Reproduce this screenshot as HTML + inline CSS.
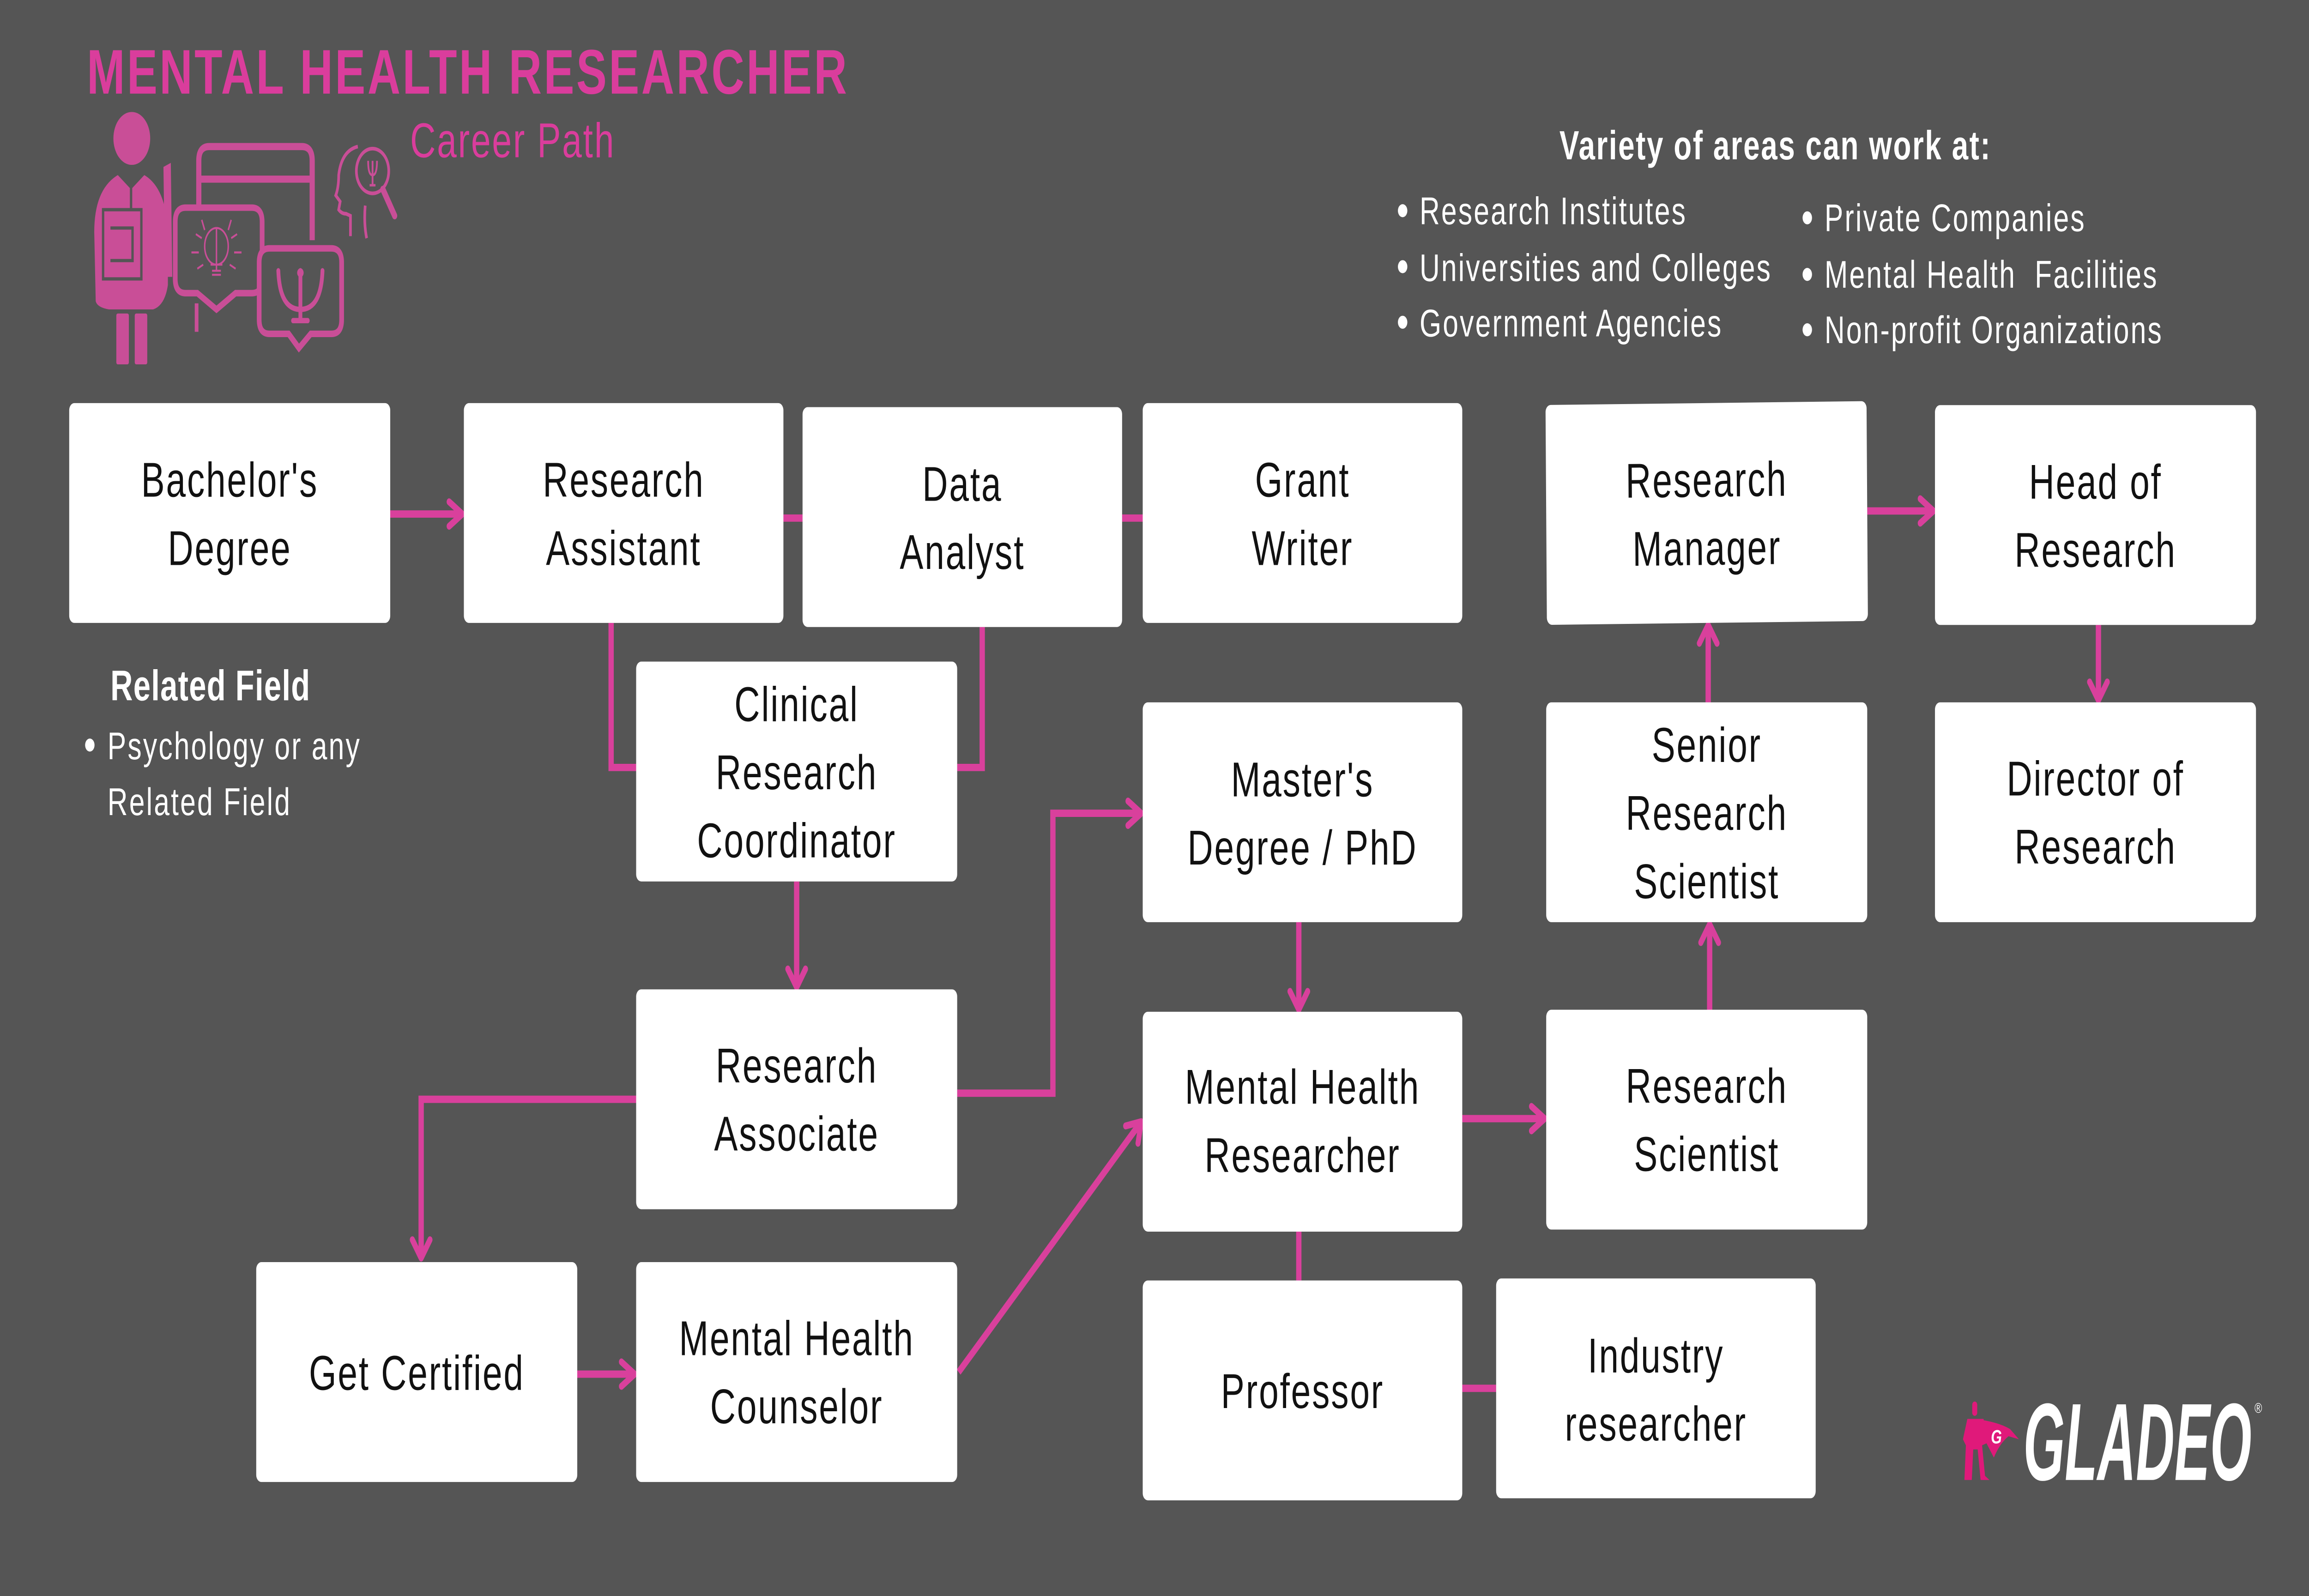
<!DOCTYPE html>
<html>
<head>
<meta charset="utf-8">
<style>
html,body{margin:0;padding:0;width:100%;height:100%;background:#555555;overflow:hidden;}
svg{display:block;width:100vw;height:100vh;}
.bx{fill:#ffffff;}
.bt{font-family:"Liberation Sans",sans-serif;font-size:24px;letter-spacing:0.9px;fill:#111111;text-anchor:middle;}
.li{font-family:"Liberation Sans",sans-serif;font-size:19px;letter-spacing:1px;fill:#ffffff;white-space:pre;}
</style>
</head>
<body>
<svg viewBox="0 0 1568 784" preserveAspectRatio="none">
  <rect x="0" y="0" width="1568" height="784" fill="#555555"/>

  <!-- connectors -->
  <g stroke="#d9409c" stroke-width="3.6" fill="none">
    <path d="M265 252.5 H313"/>
    <path d="M532 254.5 H545"/>
    <path d="M762 254.5 H776"/>
    <path d="M415 306 V377 H432"/>
    <path d="M667 308 V377 H650"/>
    <path d="M541 433 V484"/>
    <path d="M650 537 H715 V399.5 H774"/>
    <path d="M432 540 H286 V617"/>
    <path d="M392 675 H430"/>
    <path d="M651 674 L774 552"/>
    <path d="M882 453 V495"/>
    <path d="M993 549.5 H1048"/>
    <path d="M882 605 V629"/>
    <path d="M993 682 H1016"/>
    <path d="M1161 496 V455"/>
    <path d="M1160 345 V308"/>
    <path d="M1268 251 H1312"/>
    <path d="M1425 307 V343"/>
  </g>
  <g stroke="#d9409c" stroke-width="3.4" fill="none" stroke-linecap="round" stroke-linejoin="round">
    <path d="M305 246.5 L314 252.5 L305 258.5"/>
    <path d="M766 393.5 L775 399.5 L766 405.5"/>
    <path d="M535 476 L541 485 L547 476"/>
    <path d="M280 609 L286 618 L292 609"/>
    <path d="M422 669 L431 675 L422 681"/>
    <path d="M764.4 553.1 L775 551 L772.8 561.6"/>
    <path d="M876 487 L882 496 L888 487"/>
    <path d="M1040 543.5 L1049 549.5 L1040 555.5"/>
    <path d="M1155 463 L1161 454 L1167 463"/>
    <path d="M1154 316 L1160 307 L1166 316"/>
    <path d="M1304 245 L1313 251 L1304 257"/>
    <path d="M1419 335 L1425 344 L1431 335"/>
  </g>

  <!-- Icon: person with bubbles -->
  <g fill="#c94e97">
    <ellipse cx="89.5" cy="68" rx="12.5" ry="13"/>
    <path d="M65 148 L64 114 Q64 93 80 86 L89 93 L98 86 Q112 92 114 112 L114 140 Q112 150 104 152 L74 152 Q66 151 65 148 Z"/>
    <rect x="79" y="154" width="8.5" height="25" rx="1"/>
    <rect x="91.5" y="154" width="8.5" height="25" rx="1"/>
    <path d="M111 82 L116 80 L117 136 L112 136 Z"/>
  </g>
  <g fill="none" stroke="#555555" stroke-width="1.6">
    <path d="M70 103 H96 V137 H70 Z"/>
    <path d="M75 112 H90 V128 H75"/>
    <path d="M89 92 L89 103"/>
  </g>
  <g fill="none" stroke="#c94e97" stroke-width="3.5">
    <path d="M135 116 V79 Q135 72 142 72 H205 Q212 72 212 79 V118"/>
    <path d="M135 88 H212"/>
  </g>
  <path d="M126 102 H171 Q178 102 178 109 V137 Q178 144 171 144 H160 L147 152 L134 144 H126 Q119 144 119 137 V109 Q119 102 126 102 Z" fill="#555555" stroke="#c94e97" stroke-width="3.2"/>
  <g fill="none" stroke="#c94e97" stroke-width="1">
    <ellipse cx="147" cy="121" rx="8" ry="9"/>
    <path d="M147 112 V133 M143 130 H151 M144 133 H150 M144 135 H150"/>
    <path d="M137 108 L139 113 M157 108 L155 113 M130 124 H135 M159 124 H164 M133 115 L137 117 M161 115 L157 117 M134 132 L138 130 M160 132 L156 130"/>
  </g>
  <path d="M133.5 149 V163" stroke="#c94e97" stroke-width="2.5"/>
  <path d="M183 122 H225 Q232 122 232 129 V157 Q232 164 225 164 H211 L203 171 L196 164 H183 Q176 164 176 157 V129 Q176 122 183 122 Z" fill="#555555" stroke="#c94e97" stroke-width="3.2"/>
  <g fill="none" stroke="#c94e97" stroke-width="2.6" stroke-linecap="round">
    <path d="M189 133 Q190 152 204 152 Q218 152 219 133"/>
    <path d="M204 133 V157"/>
    <path d="M199 157.5 H209"/>
  </g>
  <circle cx="204" cy="134" r="2.2" fill="#c94e97"/>
  <g fill="none" stroke="#c94e97" stroke-width="1.8">
    <path d="M243 72 Q232 74 230 86 Q230 92 228 96 L231 99 L230 103 Q232 105 235 105 L238 106 L238 116"/>
    <path d="M248 101 Q247 110 249 117"/>
    <circle cx="253" cy="84" r="11"/>
    <path d="M250 79 Q250 86 253 86 Q256 86 256 79 M253 79 V91 M251 91 H255" stroke-width="1.2"/>
  </g>
  <path d="M260 93 L268 106" stroke="#c94e97" stroke-width="3.5" stroke-linecap="round"/>

  <!-- Title -->
  <text x="59" y="46" font-family="Liberation Sans, sans-serif" font-weight="bold" font-size="31" letter-spacing="1.4" fill="#da3d9c">MENTAL HEALTH RESEARCHER</text>
  <text x="278.5" y="77.2" font-family="Liberation Sans, sans-serif" font-size="24" letter-spacing="0.9" fill="#da3d9c">Career Path</text>

  <!-- Variety -->
  <text x="1059" y="78.3" font-family="Liberation Sans, sans-serif" font-weight="bold" font-size="20" letter-spacing="0.8" fill="#ffffff">Variety of areas can work at:</text>
  <g fill="#ffffff">
    <circle cx="952.5" cy="103.5" r="3.2"/>
    <circle cx="952.5" cy="131" r="3.2"/>
    <circle cx="952.5" cy="158.3" r="3.2"/>
    <circle cx="1227.3" cy="107" r="3.2"/>
    <circle cx="1227.3" cy="134.8" r="3.2"/>
    <circle cx="1227.3" cy="162" r="3.2"/>
    <circle cx="61" cy="366" r="3.2"/>
  </g>
  <text class="li" x="964" y="110.1">Research Institutes</text>
  <text class="li" x="964" y="138">Universities and Colleges</text>
  <text class="li" x="964" y="165.3">Government Agencies</text>
  <text class="li" x="1239" y="113.5" letter-spacing="1.2">Private Companies</text>
  <text class="li" x="1239" y="141.3" letter-spacing="1.2">Mental Health  Facilities</text>
  <text class="li" x="1239" y="168.6" letter-spacing="1.3">Non-profit Organizations</text>

  <!-- Related field -->
  <text x="75" y="344" font-family="Liberation Sans, sans-serif" font-weight="bold" font-size="21" letter-spacing="0.4" fill="#ffffff">Related Field</text>
  <text class="li" x="73" y="373">Psychology or any</text>
  <text class="li" x="73" y="400.4">Related Field</text>

  <!-- Boxes -->
  <rect class="bx" x="47" y="198" width="218" height="108" rx="3.5"/>
  <text class="bt" x="156" y="244">Bachelor's</text>
  <text class="bt" x="156" y="277.5">Degree</text>

  <rect class="bx" x="315" y="198" width="217" height="108" rx="3.5"/>
  <text class="bt" x="423.5" y="244">Research</text>
  <text class="bt" x="423.5" y="277.5">Assistant</text>

  <rect class="bx" x="545" y="200" width="217" height="108" rx="3.5"/>
  <text class="bt" x="653.5" y="246">Data</text>
  <text class="bt" x="653.5" y="279.5">Analyst</text>

  <rect class="bx" x="776" y="198" width="217" height="108" rx="3.5"/>
  <text class="bt" x="884.5" y="244">Grant</text>
  <text class="bt" x="884.5" y="277.5">Writer</text>

  <g transform="rotate(-0.5 1159 252)">
    <rect class="bx" x="1050" y="198" width="218" height="108" rx="3.5"/>
    <text class="bt" x="1159" y="244">Research</text>
    <text class="bt" x="1159" y="277.5">Manager</text>
  </g>

  <rect class="bx" x="1314" y="199" width="218" height="108" rx="3.5"/>
  <text class="bt" x="1423" y="245">Head of</text>
  <text class="bt" x="1423" y="278.5">Research</text>

  <rect class="bx" x="432" y="325" width="218" height="108" rx="3.5"/>
  <text class="bt" x="541" y="354.2">Clinical</text>
  <text class="bt" x="541" y="387.7">Research</text>
  <text class="bt" x="541" y="421.2">Coordinator</text>

  <rect class="bx" x="776" y="345" width="217" height="108" rx="3.5"/>
  <text class="bt" x="884.5" y="391.2">Master's</text>
  <text class="bt" x="884.5" y="424.7">Degree / PhD</text>

  <rect class="bx" x="1050" y="345" width="218" height="108" rx="3.5"/>
  <text class="bt" x="1159" y="374.2">Senior</text>
  <text class="bt" x="1159" y="407.7">Research</text>
  <text class="bt" x="1159" y="441.2">Scientist</text>

  <rect class="bx" x="1314" y="345" width="218" height="108" rx="3.5"/>
  <text class="bt" x="1423" y="390.7">Director of</text>
  <text class="bt" x="1423" y="424.2">Research</text>

  <rect class="bx" x="432" y="486" width="218" height="108" rx="3.5"/>
  <text class="bt" x="541" y="531.7">Research</text>
  <text class="bt" x="541" y="565.2">Associate</text>

  <rect class="bx" x="776" y="497" width="217" height="108" rx="3.5"/>
  <text class="bt" x="884.5" y="542.2">Mental Health</text>
  <text class="bt" x="884.5" y="575.7">Researcher</text>

  <rect class="bx" x="1050" y="496" width="218" height="108" rx="3.5"/>
  <text class="bt" x="1159" y="541.7">Research</text>
  <text class="bt" x="1159" y="575.2">Scientist</text>

  <rect class="bx" x="174" y="620" width="218" height="108" rx="3.5"/>
  <text class="bt" x="283" y="682.7">Get Certified</text>

  <rect class="bx" x="432" y="620" width="218" height="108" rx="3.5"/>
  <text class="bt" x="541" y="665.7">Mental Health</text>
  <text class="bt" x="541" y="699.2">Counselor</text>

  <rect class="bx" x="776" y="629" width="217" height="108" rx="3.5"/>
  <text class="bt" x="884.5" y="691.7">Professor</text>

  <rect class="bx" x="1016" y="628" width="217" height="108" rx="3.5"/>
  <text class="bt" x="1124.5" y="674.2">Industry</text>
  <text class="bt" x="1124.5" y="707.7">researcher</text>

  <!-- Gladeo logo -->
  <g fill="#e0197a">
    <rect x="1339.3" y="688.5" width="3.4" height="7" rx="1.6"/>
    <path d="M1336 697 L1347 697 L1349 709 L1346 710 L1348 725 L1351 727 L1345 727 L1343 712 L1340 712 L1339 727 L1334 727 L1335 710 L1333 707 Z"/>
    <path d="M1346 697.5 Q1358 699 1365 702 L1371 707 L1364 705.5 Q1358 709 1354 716 L1349 709 Z"/>
  </g>
  <text x="1352" y="709" font-family="Liberation Sans, sans-serif" font-weight="bold" font-style="italic" font-size="9.5" fill="#ffffff">G</text>
  <text x="1374" y="727" font-family="Liberation Sans, sans-serif" font-weight="bold" font-style="italic" font-size="54" fill="#ffffff" textLength="155" lengthAdjust="spacingAndGlyphs">GLADEO</text>
  <text x="1531" y="694" font-family="Liberation Sans, sans-serif" font-size="7" fill="#ffffff">®</text>
</svg>
</body>
</html>
